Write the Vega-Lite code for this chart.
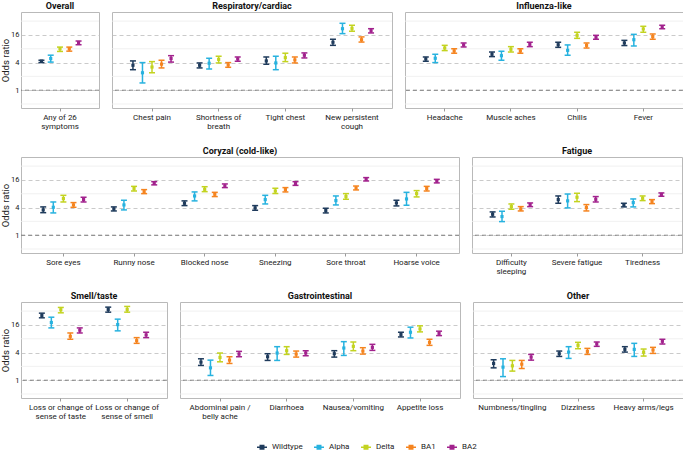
{
"$schema": "https://vega.github.io/schema/vega-lite/v6.json",
"padding": {"left": 0, "top": 0, "right": 0, "bottom": 0},
"background": "white",
"spacing": 14,
"resolve": {"scale": {"xOffset": "independent"}},
"datasets": {"d": [
{"g":"Overall","s":"Any of 26 symptoms","v":"Wildtype","or":4.3,"lo":4.0,"hi":4.5},
{"g":"Overall","s":"Any of 26 symptoms","v":"Alpha","or":4.9,"lo":4.1,"hi":5.8},
{"g":"Overall","s":"Any of 26 symptoms","v":"Delta","or":8.0,"lo":7.0,"hi":8.7},
{"g":"Overall","s":"Any of 26 symptoms","v":"BA1","or":8.0,"lo":7.1,"hi":8.7},
{"g":"Overall","s":"Any of 26 symptoms","v":"BA2","or":10.9,"lo":9.8,"hi":11.8},
{"g":"Respiratory/cardiac","s":"Chest pain","v":"Wildtype","or":3.5,"lo":2.8,"hi":4.35},
{"g":"Respiratory/cardiac","s":"Chest pain","v":"Alpha","or":2.4,"lo":1.44,"hi":4.0},
{"g":"Respiratory/cardiac","s":"Chest pain","v":"Delta","or":3.2,"lo":2.4,"hi":4.2},
{"g":"Respiratory/cardiac","s":"Chest pain","v":"BA1","or":3.7,"lo":3.06,"hi":4.5},
{"g":"Respiratory/cardiac","s":"Chest pain","v":"BA2","or":4.9,"lo":4.1,"hi":5.66},
{"g":"Respiratory/cardiac","s":"Shortness of breath","v":"Wildtype","or":3.5,"lo":3.06,"hi":3.93},
{"g":"Respiratory/cardiac","s":"Shortness of breath","v":"Alpha","or":3.87,"lo":2.9,"hi":4.97},
{"g":"Respiratory/cardiac","s":"Shortness of breath","v":"Delta","or":4.7,"lo":3.93,"hi":5.5},
{"g":"Respiratory/cardiac","s":"Shortness of breath","v":"BA1","or":3.56,"lo":3.16,"hi":4.0},
{"g":"Respiratory/cardiac","s":"Shortness of breath","v":"BA2","or":4.8,"lo":4.28,"hi":5.3},
{"g":"Respiratory/cardiac","s":"Tight chest","v":"Wildtype","or":4.35,"lo":3.68,"hi":5.3},
{"g":"Respiratory/cardiac","s":"Tight chest","v":"Alpha","or":3.93,"lo":2.8,"hi":5.5},
{"g":"Respiratory/cardiac","s":"Tight chest","v":"Delta","or":5.13,"lo":4.2,"hi":6.4},
{"g":"Respiratory/cardiac","s":"Tight chest","v":"BA1","or":4.57,"lo":3.93,"hi":5.3},
{"g":"Respiratory/cardiac","s":"Tight chest","v":"BA2","or":5.78,"lo":5.05,"hi":6.5},
{"g":"Respiratory/cardiac","s":"New persistent cough","v":"Wildtype","or":11.1,"lo":9.5,"hi":12.9},
{"g":"Respiratory/cardiac","s":"New persistent cough","v":"Alpha","or":21.9,"lo":17.1,"hi":28.7},
{"g":"Respiratory/cardiac","s":"New persistent cough","v":"Delta","or":22.3,"lo":19.3,"hi":26},
{"g":"Respiratory/cardiac","s":"New persistent cough","v":"BA1","or":12.6,"lo":11.2,"hi":14.5},
{"g":"Respiratory/cardiac","s":"New persistent cough","v":"BA2","or":19.8,"lo":17.7,"hi":21.9},
{"g":"Influenza-like","s":"Headache","v":"Wildtype","or":4.8,"lo":4.28,"hi":5.3},
{"g":"Influenza-like","s":"Headache","v":"Alpha","or":4.97,"lo":4.0,"hi":6.07},
{"g":"Influenza-like","s":"Headache","v":"Delta","or":8.3,"lo":7.3,"hi":9.5},
{"g":"Influenza-like","s":"Headache","v":"BA1","or":7.17,"lo":6.4,"hi":8.0},
{"g":"Influenza-like","s":"Headache","v":"BA2","or":9.7,"lo":8.76,"hi":10.7},
{"g":"Influenza-like","s":"Muscle aches","v":"Wildtype","or":6.07,"lo":5.4,"hi":6.8},
{"g":"Influenza-like","s":"Muscle aches","v":"Alpha","or":5.66,"lo":4.5,"hi":7.06},
{"g":"Influenza-like","s":"Muscle aches","v":"Delta","or":7.8,"lo":6.8,"hi":8.9},
{"g":"Influenza-like","s":"Muscle aches","v":"BA1","or":7.17,"lo":6.4,"hi":8.0},
{"g":"Influenza-like","s":"Muscle aches","v":"BA2","or":10.0,"lo":8.9,"hi":11.1},
{"g":"Influenza-like","s":"Chills","v":"Wildtype","or":9.8,"lo":8.6,"hi":11.1},
{"g":"Influenza-like","s":"Chills","v":"Alpha","or":7.4,"lo":5.78,"hi":9.7},
{"g":"Influenza-like","s":"Chills","v":"Delta","or":15.7,"lo":13.5,"hi":18.3},
{"g":"Influenza-like","s":"Chills","v":"BA1","or":9.5,"lo":8.3,"hi":10.7},
{"g":"Influenza-like","s":"Chills","v":"BA2","or":14.2,"lo":12.9,"hi":15.7},
{"g":"Influenza-like","s":"Fever","v":"Wildtype","or":10.7,"lo":9.4,"hi":12.2},
{"g":"Influenza-like","s":"Fever","v":"Alpha","or":12.6,"lo":9.2,"hi":16.5},
{"g":"Influenza-like","s":"Fever","v":"Delta","or":21.6,"lo":18.3,"hi":24.7},
{"g":"Influenza-like","s":"Fever","v":"BA1","or":14.7,"lo":12.9,"hi":16.8},
{"g":"Influenza-like","s":"Fever","v":"BA2","or":23.9,"lo":21.9,"hi":26},
{"g":"Coryzal (cold-like)","s":"Sore eyes","v":"Wildtype","or":3.56,"lo":3.1,"hi":4.14},
{"g":"Coryzal (cold-like)","s":"Sore eyes","v":"Alpha","or":4.06,"lo":3.06,"hi":5.3},
{"g":"Coryzal (cold-like)","s":"Sore eyes","v":"Delta","or":6.28,"lo":5.3,"hi":7.4},
{"g":"Coryzal (cold-like)","s":"Sore eyes","v":"BA1","or":4.57,"lo":4.06,"hi":5.14},
{"g":"Coryzal (cold-like)","s":"Sore eyes","v":"BA2","or":5.97,"lo":5.3,"hi":6.72},
{"g":"Coryzal (cold-like)","s":"Runny nose","v":"Wildtype","or":3.74,"lo":3.38,"hi":4.14},
{"g":"Coryzal (cold-like)","s":"Runny nose","v":"Alpha","or":4.57,"lo":3.56,"hi":5.78},
{"g":"Coryzal (cold-like)","s":"Runny nose","v":"Delta","or":10.4,"lo":9.2,"hi":11.6},
{"g":"Coryzal (cold-like)","s":"Runny nose","v":"BA1","or":8.9,"lo":8.06,"hi":9.85},
{"g":"Coryzal (cold-like)","s":"Runny nose","v":"BA2","or":13.5,"lo":12.5,"hi":14.7},
{"g":"Coryzal (cold-like)","s":"Blocked nose","v":"Wildtype","or":4.97,"lo":4.42,"hi":5.6},
{"g":"Coryzal (cold-like)","s":"Blocked nose","v":"Alpha","or":7.17,"lo":5.6,"hi":8.77},
{"g":"Coryzal (cold-like)","s":"Blocked nose","v":"Delta","or":10.0,"lo":8.9,"hi":11.4},
{"g":"Coryzal (cold-like)","s":"Blocked nose","v":"BA1","or":7.8,"lo":6.95,"hi":8.6},
{"g":"Coryzal (cold-like)","s":"Blocked nose","v":"BA2","or":11.8,"lo":10.9,"hi":13.1},
{"g":"Coryzal (cold-like)","s":"Sneezing","v":"Wildtype","or":3.94,"lo":3.5,"hi":4.42},
{"g":"Coryzal (cold-like)","s":"Sneezing","v":"Alpha","or":5.97,"lo":4.8,"hi":7.4},
{"g":"Coryzal (cold-like)","s":"Sneezing","v":"Delta","or":9.2,"lo":8.06,"hi":10.5},
{"g":"Coryzal (cold-like)","s":"Sneezing","v":"BA1","or":9.85,"lo":8.77,"hi":10.9},
{"g":"Coryzal (cold-like)","s":"Sneezing","v":"BA2","or":13.3,"lo":12.2,"hi":14.7},
{"g":"Coryzal (cold-like)","s":"Sore throat","v":"Wildtype","or":3.44,"lo":3.06,"hi":3.87},
{"g":"Coryzal (cold-like)","s":"Sore throat","v":"Alpha","or":5.68,"lo":4.57,"hi":7.17},
{"g":"Coryzal (cold-like)","s":"Sore throat","v":"Delta","or":6.95,"lo":6.07,"hi":8.06},
{"g":"Coryzal (cold-like)","s":"Sore throat","v":"BA1","or":10.7,"lo":9.7,"hi":11.8},
{"g":"Coryzal (cold-like)","s":"Sore throat","v":"BA2","or":16.5,"lo":15.2,"hi":18.0},
{"g":"Coryzal (cold-like)","s":"Hoarse voice","v":"Wildtype","or":5.05,"lo":4.35,"hi":5.78},
{"g":"Coryzal (cold-like)","s":"Hoarse voice","v":"Alpha","or":6.17,"lo":4.5,"hi":8.6},
{"g":"Coryzal (cold-like)","s":"Hoarse voice","v":"Delta","or":8.06,"lo":6.83,"hi":9.38},
{"g":"Coryzal (cold-like)","s":"Hoarse voice","v":"BA1","or":10.4,"lo":9.2,"hi":11.6},
{"g":"Coryzal (cold-like)","s":"Hoarse voice","v":"BA2","or":15.2,"lo":13.8,"hi":16.5},
{"g":"Fatigue","s":"Difficulty sleeping","v":"Wildtype","or":2.86,"lo":2.5,"hi":3.22},
{"g":"Fatigue","s":"Difficulty sleeping","v":"Alpha","or":2.55,"lo":1.98,"hi":3.33},
{"g":"Fatigue","s":"Difficulty sleeping","v":"Delta","or":4.2,"lo":3.68,"hi":4.8},
{"g":"Fatigue","s":"Difficulty sleeping","v":"BA1","or":3.74,"lo":3.38,"hi":4.2},
{"g":"Fatigue","s":"Difficulty sleeping","v":"BA2","or":4.65,"lo":4.2,"hi":5.05},
{"g":"Fatigue","s":"Severe fatigue","v":"Wildtype","or":5.97,"lo":4.97,"hi":7.17},
{"g":"Fatigue","s":"Severe fatigue","v":"Alpha","or":5.6,"lo":3.94,"hi":7.9},
{"g":"Fatigue","s":"Severe fatigue","v":"Delta","or":6.72,"lo":5.4,"hi":8.2},
{"g":"Fatigue","s":"Severe fatigue","v":"BA1","or":4.0,"lo":3.38,"hi":4.65},
{"g":"Fatigue","s":"Severe fatigue","v":"BA2","or":6.07,"lo":5.3,"hi":6.95},
{"g":"Fatigue","s":"Tiredness","v":"Wildtype","or":4.5,"lo":4.14,"hi":4.97},
{"g":"Fatigue","s":"Tiredness","v":"Alpha","or":5.14,"lo":4.14,"hi":6.17},
{"g":"Fatigue","s":"Tiredness","v":"Delta","or":6.38,"lo":5.68,"hi":7.17},
{"g":"Fatigue","s":"Tiredness","v":"BA1","or":5.4,"lo":4.88,"hi":5.97},
{"g":"Fatigue","s":"Tiredness","v":"BA2","or":7.67,"lo":7.06,"hi":8.35},
{"g":"Smell/taste","s":"Loss or change of sense of taste","v":"Wildtype","or":25.7,"lo":22.9,"hi":28.9},
{"g":"Smell/taste","s":"Loss or change of sense of taste","v":"Alpha","or":18.1,"lo":13.8,"hi":23.6},
{"g":"Smell/taste","s":"Loss or change of sense of taste","v":"Delta","or":34.3,"lo":29.4,"hi":38.5},
{"g":"Smell/taste","s":"Loss or change of sense of taste","v":"BA1","or":9.06,"lo":7.8,"hi":10.7},
{"g":"Smell/taste","s":"Loss or change of sense of taste","v":"BA2","or":12.3,"lo":10.7,"hi":13.8},
{"g":"Smell/taste","s":"Loss or change of sense of smell","v":"Wildtype","or":34.8,"lo":30.4,"hi":39.1},
{"g":"Smell/taste","s":"Loss or change of sense of smell","v":"Alpha","or":16.3,"lo":11.9,"hi":21.4},
{"g":"Smell/taste","s":"Loss or change of sense of smell","v":"Delta","or":34.8,"lo":30.4,"hi":40.5},
{"g":"Smell/taste","s":"Loss or change of sense of smell","v":"BA1","or":7.28,"lo":6.36,"hi":8.47},
{"g":"Smell/taste","s":"Loss or change of sense of smell","v":"BA2","or":9.7,"lo":8.47,"hi":11.1},
{"g":"Gastrointestinal","s":"Abdominal pain / belly ache","v":"Wildtype","or":2.48,"lo":2.1,"hi":2.93},
{"g":"Gastrointestinal","s":"Abdominal pain / belly ache","v":"Alpha","or":1.86,"lo":1.27,"hi":2.74},
{"g":"Gastrointestinal","s":"Abdominal pain / belly ache","v":"Delta","or":3.14,"lo":2.52,"hi":3.91},
{"g":"Gastrointestinal","s":"Abdominal pain / belly ache","v":"BA1","or":2.74,"lo":2.32,"hi":3.25},
{"g":"Gastrointestinal","s":"Abdominal pain / belly ache","v":"BA2","or":3.71,"lo":3.25,"hi":4.25},
{"g":"Gastrointestinal","s":"Diarrhoea","v":"Wildtype","or":3.25,"lo":2.7,"hi":3.78},
{"g":"Gastrointestinal","s":"Diarrhoea","v":"Alpha","or":3.91,"lo":2.7,"hi":5.38},
{"g":"Gastrointestinal","s":"Diarrhoea","v":"Delta","or":4.4,"lo":3.65,"hi":5.38},
{"g":"Gastrointestinal","s":"Diarrhoea","v":"BA1","or":3.71,"lo":3.19,"hi":4.32},
{"g":"Gastrointestinal","s":"Diarrhoea","v":"BA2","or":3.91,"lo":3.42,"hi":4.4},
{"g":"Gastrointestinal","s":"Nausea/vomiting","v":"Wildtype","or":3.78,"lo":3.19,"hi":4.4},
{"g":"Gastrointestinal","s":"Nausea/vomiting","v":"Alpha","or":5.03,"lo":3.47,"hi":6.92},
{"g":"Gastrointestinal","s":"Nausea/vomiting","v":"Delta","or":5.47,"lo":4.4,"hi":6.8},
{"g":"Gastrointestinal","s":"Nausea/vomiting","v":"BA1","or":4.32,"lo":3.71,"hi":5.11},
{"g":"Gastrointestinal","s":"Nausea/vomiting","v":"BA2","or":5.2,"lo":4.47,"hi":6.05},
{"g":"Gastrointestinal","s":"Appetite loss","v":"Wildtype","or":9.86,"lo":8.77,"hi":11.1},
{"g":"Gastrointestinal","s":"Appetite loss","v":"Alpha","or":11.1,"lo":8.33,"hi":14.3},
{"g":"Gastrointestinal","s":"Appetite loss","v":"Delta","or":13.1,"lo":11.3,"hi":15.3},
{"g":"Gastrointestinal","s":"Appetite loss","v":"BA1","or":6.69,"lo":5.75,"hi":7.8},
{"g":"Gastrointestinal","s":"Appetite loss","v":"BA2","or":10.5,"lo":9.38,"hi":11.7},
{"g":"Other","s":"Numbness/tingling","v":"Wildtype","or":2.32,"lo":1.86,"hi":2.79},
{"g":"Other","s":"Numbness/tingling","v":"Alpha","or":1.93,"lo":1.2,"hi":2.93},
{"g":"Other","s":"Numbness/tingling","v":"Delta","or":2.06,"lo":1.58,"hi":2.7},
{"g":"Other","s":"Numbness/tingling","v":"BA1","or":2.24,"lo":1.8,"hi":2.7},
{"g":"Other","s":"Numbness/tingling","v":"BA2","or":3.19,"lo":2.74,"hi":3.65},
{"g":"Other","s":"Dizziness","v":"Wildtype","or":3.78,"lo":3.3,"hi":4.32},
{"g":"Other","s":"Dizziness","v":"Alpha","or":4.1,"lo":2.99,"hi":5.38},
{"g":"Other","s":"Dizziness","v":"Delta","or":5.75,"lo":4.86,"hi":6.69},
{"g":"Other","s":"Dizziness","v":"BA1","or":4.25,"lo":3.65,"hi":4.94},
{"g":"Other","s":"Dizziness","v":"BA2","or":6.15,"lo":5.47,"hi":6.8},
{"g":"Other","s":"Heavy arms/legs","v":"Wildtype","or":4.7,"lo":4.1,"hi":5.38},
{"g":"Other","s":"Heavy arms/legs","v":"Alpha","or":4.7,"lo":3.3,"hi":6.36},
{"g":"Other","s":"Heavy arms/legs","v":"Delta","or":4.1,"lo":3.36,"hi":4.78},
{"g":"Other","s":"Heavy arms/legs","v":"BA1","or":4.55,"lo":3.84,"hi":5.2},
{"g":"Other","s":"Heavy arms/legs","v":"BA2","or":7.05,"lo":6.15,"hi":7.8}
]},
"vconcat": [
{"hconcat": [
 {"vconcat": [
  {"width": 78, "height": 11, "data": {"values": [{"t": "Overall"}]}, "mark": {"type": "text", "fontWeight": "bold", "fontSize": 9, "color": "#111"}, "encoding": {"text": {"field": "t"}}},
  {"width": 78, "height": 96, "layer": [
   {"data": {"values": [{"m": 0.5}, {"m": 2}, {"m": 8}, {"m": 32}]}, "mark": {"type": "rule", "color": "#ededed", "strokeWidth": 0.8}, "encoding": {"y": {"field": "m", "type": "quantitative", "scale": {"type": "log", "domain": [0.41, 50.6], "nice": false}, "axis": {"values": [1, 4, 16], "title": "Odds ratio"}}}},
   {"data": {"values": [{"r": 1}]}, "mark": {"type": "rule", "color": "#6b6b6b", "strokeDash": [4, 3], "strokeWidth": 0.8}, "encoding": {"y": {"field": "r", "type": "quantitative", "scale": {"type": "log", "domain": [0.41, 50.6], "nice": false}, "axis": {"values": [1, 4, 16], "title": "Odds ratio"}}}},
   {"data": {"name": "d"}, "transform": [{"filter": {"field": "g", "equal": "Overall"}}],
    "encoding": {
     "x": {"field": "s", "type": "nominal", "sort": null, "title": null, "scale": {"paddingInner": 0, "paddingOuter": 0.1}, "axis": {"labelExpr": "datum.label == 'Any of 26 symptoms' ? ['Any of 26', 'symptoms'] : datum.label"}},
     "xOffset": {"field": "v", "type": "nominal", "sort": ["Wildtype", "Alpha", "Delta", "BA1", "BA2"], "scale": {"paddingInner": 0, "paddingOuter": 2.5}},
     "color": {"field": "v", "type": "nominal", "title": null, "scale": {"domain": ["Wildtype", "Alpha", "Delta", "BA1", "BA2"], "range": ["#1f3b5c", "#27b2df", "#c3d320", "#f5841f", "#a2228d"]},
      "legend": {"orient": "none", "legendX": 235, "legendY": 441, "direction": "horizontal", "symbolType": "M-1,0H1M-0.35,-0.35H0.35V0.35H-0.35Z", "symbolStrokeWidth": 1.5, "symbolSize": 100, "labelFontSize": 8, "labelColor": "#222", "columnPadding": 8, "labelOffset": 4,
       "encode": {"symbols": {"update": {"stroke": {"scale": "color", "field": "value"}, "fill": {"scale": "color", "field": "value"}, "opacity": {"value": 1}}}}}}
    },
    "layer": [
     {"mark": {"type": "rule", "strokeWidth": 1.5}, "encoding": {"y": {"field": "lo", "type": "quantitative", "scale": {"type": "log", "domain": [0.41, 50.6], "nice": false}, "axis": {"values": [1, 4, 16], "title": "Odds ratio"}}, "y2": {"field": "hi"}}},
     {"mark": {"type": "tick", "orient": "horizontal", "size": 6, "thickness": 1.5, "opacity": 1}, "encoding": {"y": {"field": "lo", "type": "quantitative", "axis": {"values": [1, 4, 16], "title": "Odds ratio"}}}},
     {"mark": {"type": "tick", "orient": "horizontal", "size": 6, "thickness": 1.5, "opacity": 1}, "encoding": {"y": {"field": "hi", "type": "quantitative", "axis": {"values": [1, 4, 16], "title": "Odds ratio"}}}},
     {"mark": {"type": "point", "shape": "square", "filled": true, "size": 10, "opacity": 1}, "encoding": {"y": {"field": "or", "type": "quantitative", "axis": {"values": [1, 4, 16], "title": "Odds ratio"}}}}
    ]}
  ]}
 ], "spacing": 0, "resolve": {"scale": {"xOffset": "independent"}}},
 {"vconcat": [
  {"width": 280, "height": 11, "data": {"values": [{"t": "Respiratory/cardiac"}]}, "mark": {"type": "text", "fontWeight": "bold", "fontSize": 9, "color": "#111"}, "encoding": {"text": {"field": "t"}}},
  {"width": 280, "height": 96, "layer": [
   {"data": {"values": [{"m": 0.5}, {"m": 2}, {"m": 8}, {"m": 32}]}, "mark": {"type": "rule", "color": "#ededed", "strokeWidth": 0.8}, "encoding": {"y": {"field": "m", "type": "quantitative", "scale": {"type": "log", "domain": [0.41, 50.6], "nice": false}, "axis": {"values": [1, 4, 16], "labels": false, "title": null}}}},
   {"data": {"values": [{"r": 1}]}, "mark": {"type": "rule", "color": "#6b6b6b", "strokeDash": [4, 3], "strokeWidth": 0.8}, "encoding": {"y": {"field": "r", "type": "quantitative", "scale": {"type": "log", "domain": [0.41, 50.6], "nice": false}, "axis": {"values": [1, 4, 16], "labels": false, "title": null}}}},
   {"data": {"name": "d"}, "transform": [{"filter": {"field": "g", "equal": "Respiratory/cardiac"}}],
    "encoding": {
     "x": {"field": "s", "type": "nominal", "sort": null, "title": null, "scale": {"paddingInner": 0, "paddingOuter": 0.1}, "axis": {"labelExpr": "datum.label == 'Shortness of breath' ? ['Shortness of', 'breath'] : datum.label == 'New persistent cough' ? ['New persistent', 'cough'] : datum.label"}},
     "xOffset": {"field": "v", "type": "nominal", "sort": ["Wildtype", "Alpha", "Delta", "BA1", "BA2"], "scale": {"paddingInner": 0, "paddingOuter": 2.5}},
     "color": {"field": "v", "type": "nominal", "title": null, "scale": {"domain": ["Wildtype", "Alpha", "Delta", "BA1", "BA2"], "range": ["#1f3b5c", "#27b2df", "#c3d320", "#f5841f", "#a2228d"]}, "legend": null}
    },
    "layer": [
     {"mark": {"type": "rule", "strokeWidth": 1.5}, "encoding": {"y": {"field": "lo", "type": "quantitative", "scale": {"type": "log", "domain": [0.41, 50.6], "nice": false}, "axis": {"values": [1, 4, 16], "labels": false, "title": null}}, "y2": {"field": "hi"}}},
     {"mark": {"type": "tick", "orient": "horizontal", "size": 6, "thickness": 1.5, "opacity": 1}, "encoding": {"y": {"field": "lo", "type": "quantitative", "axis": {"values": [1, 4, 16], "labels": false, "title": null}}}},
     {"mark": {"type": "tick", "orient": "horizontal", "size": 6, "thickness": 1.5, "opacity": 1}, "encoding": {"y": {"field": "hi", "type": "quantitative", "axis": {"values": [1, 4, 16], "labels": false, "title": null}}}},
     {"mark": {"type": "point", "shape": "square", "filled": true, "size": 10, "opacity": 1}, "encoding": {"y": {"field": "or", "type": "quantitative", "axis": {"values": [1, 4, 16], "labels": false, "title": null}}}}
    ]}
  ]}
 ], "spacing": 0, "resolve": {"scale": {"xOffset": "independent"}}},
 {"vconcat": [
  {"width": 278, "height": 11, "data": {"values": [{"t": "Influenza-like"}]}, "mark": {"type": "text", "fontWeight": "bold", "fontSize": 9, "color": "#111"}, "encoding": {"text": {"field": "t"}}},
  {"width": 278, "height": 96, "layer": [
   {"data": {"values": [{"m": 0.5}, {"m": 2}, {"m": 8}, {"m": 32}]}, "mark": {"type": "rule", "color": "#ededed", "strokeWidth": 0.8}, "encoding": {"y": {"field": "m", "type": "quantitative", "scale": {"type": "log", "domain": [0.41, 50.6], "nice": false}, "axis": {"values": [1, 4, 16], "labels": false, "title": null}}}},
   {"data": {"values": [{"r": 1}]}, "mark": {"type": "rule", "color": "#6b6b6b", "strokeDash": [4, 3], "strokeWidth": 0.8}, "encoding": {"y": {"field": "r", "type": "quantitative", "scale": {"type": "log", "domain": [0.41, 50.6], "nice": false}, "axis": {"values": [1, 4, 16], "labels": false, "title": null}}}},
   {"data": {"name": "d"}, "transform": [{"filter": {"field": "g", "equal": "Influenza-like"}}],
    "encoding": {
     "x": {"field": "s", "type": "nominal", "sort": null, "title": null, "scale": {"paddingInner": 0, "paddingOuter": 0.1}},
     "xOffset": {"field": "v", "type": "nominal", "sort": ["Wildtype", "Alpha", "Delta", "BA1", "BA2"], "scale": {"paddingInner": 0, "paddingOuter": 2.5}},
     "color": {"field": "v", "type": "nominal", "title": null, "scale": {"domain": ["Wildtype", "Alpha", "Delta", "BA1", "BA2"], "range": ["#1f3b5c", "#27b2df", "#c3d320", "#f5841f", "#a2228d"]}, "legend": null}
    },
    "layer": [
     {"mark": {"type": "rule", "strokeWidth": 1.5}, "encoding": {"y": {"field": "lo", "type": "quantitative", "scale": {"type": "log", "domain": [0.41, 50.6], "nice": false}, "axis": {"values": [1, 4, 16], "labels": false, "title": null}}, "y2": {"field": "hi"}}},
     {"mark": {"type": "tick", "orient": "horizontal", "size": 6, "thickness": 1.5, "opacity": 1}, "encoding": {"y": {"field": "lo", "type": "quantitative", "axis": {"values": [1, 4, 16], "labels": false, "title": null}}}},
     {"mark": {"type": "tick", "orient": "horizontal", "size": 6, "thickness": 1.5, "opacity": 1}, "encoding": {"y": {"field": "hi", "type": "quantitative", "axis": {"values": [1, 4, 16], "labels": false, "title": null}}}},
     {"mark": {"type": "point", "shape": "square", "filled": true, "size": 10, "opacity": 1}, "encoding": {"y": {"field": "or", "type": "quantitative", "axis": {"values": [1, 4, 16], "labels": false, "title": null}}}}
    ]}
  ]}
 ], "spacing": 0, "resolve": {"scale": {"xOffset": "independent"}}}
], "spacing": 11, "resolve": {"scale": {"xOffset": "independent"}}},
{"hconcat": [
 {"vconcat": [
  {"width": 438, "height": 11, "data": {"values": [{"t": "Coryzal (cold-like)"}]}, "mark": {"type": "text", "fontWeight": "bold", "fontSize": 9, "color": "#111"}, "encoding": {"text": {"field": "t"}}},
  {"width": 438, "height": 96, "layer": [
   {"data": {"values": [{"m": 0.5}, {"m": 2}, {"m": 8}, {"m": 32}]}, "mark": {"type": "rule", "color": "#ededed", "strokeWidth": 0.8}, "encoding": {"y": {"field": "m", "type": "quantitative", "scale": {"type": "log", "domain": [0.41, 50.6], "nice": false}, "axis": {"values": [1, 4, 16], "title": "Odds ratio"}}}},
   {"data": {"values": [{"r": 1}]}, "mark": {"type": "rule", "color": "#6b6b6b", "strokeDash": [4, 3], "strokeWidth": 0.8}, "encoding": {"y": {"field": "r", "type": "quantitative", "scale": {"type": "log", "domain": [0.41, 50.6], "nice": false}, "axis": {"values": [1, 4, 16], "title": "Odds ratio"}}}},
   {"data": {"name": "d"}, "transform": [{"filter": {"field": "g", "equal": "Coryzal (cold-like)"}}],
    "encoding": {
     "x": {"field": "s", "type": "nominal", "sort": null, "title": null, "scale": {"paddingInner": 0, "paddingOuter": 0.1}},
     "xOffset": {"field": "v", "type": "nominal", "sort": ["Wildtype", "Alpha", "Delta", "BA1", "BA2"], "scale": {"paddingInner": 0, "paddingOuter": 2.5}},
     "color": {"field": "v", "type": "nominal", "title": null, "scale": {"domain": ["Wildtype", "Alpha", "Delta", "BA1", "BA2"], "range": ["#1f3b5c", "#27b2df", "#c3d320", "#f5841f", "#a2228d"]}, "legend": null}
    },
    "layer": [
     {"mark": {"type": "rule", "strokeWidth": 1.5}, "encoding": {"y": {"field": "lo", "type": "quantitative", "scale": {"type": "log", "domain": [0.41, 50.6], "nice": false}, "axis": {"values": [1, 4, 16], "title": "Odds ratio"}}, "y2": {"field": "hi"}}},
     {"mark": {"type": "tick", "orient": "horizontal", "size": 6, "thickness": 1.5, "opacity": 1}, "encoding": {"y": {"field": "lo", "type": "quantitative", "axis": {"values": [1, 4, 16], "title": "Odds ratio"}}}},
     {"mark": {"type": "tick", "orient": "horizontal", "size": 6, "thickness": 1.5, "opacity": 1}, "encoding": {"y": {"field": "hi", "type": "quantitative", "axis": {"values": [1, 4, 16], "title": "Odds ratio"}}}},
     {"mark": {"type": "point", "shape": "square", "filled": true, "size": 10, "opacity": 1}, "encoding": {"y": {"field": "or", "type": "quantitative", "axis": {"values": [1, 4, 16], "title": "Odds ratio"}}}}
    ]}
  ]}
 ], "spacing": 0, "resolve": {"scale": {"xOffset": "independent"}}},
 {"vconcat": [
  {"width": 210, "height": 11, "data": {"values": [{"t": "Fatigue"}]}, "mark": {"type": "text", "fontWeight": "bold", "fontSize": 9, "color": "#111"}, "encoding": {"text": {"field": "t"}}},
  {"width": 210, "height": 96, "layer": [
   {"data": {"values": [{"m": 0.5}, {"m": 2}, {"m": 8}, {"m": 32}]}, "mark": {"type": "rule", "color": "#ededed", "strokeWidth": 0.8}, "encoding": {"y": {"field": "m", "type": "quantitative", "scale": {"type": "log", "domain": [0.41, 50.6], "nice": false}, "axis": {"values": [1, 4, 16], "labels": false, "title": null}}}},
   {"data": {"values": [{"r": 1}]}, "mark": {"type": "rule", "color": "#6b6b6b", "strokeDash": [4, 3], "strokeWidth": 0.8}, "encoding": {"y": {"field": "r", "type": "quantitative", "scale": {"type": "log", "domain": [0.41, 50.6], "nice": false}, "axis": {"values": [1, 4, 16], "labels": false, "title": null}}}},
   {"data": {"name": "d"}, "transform": [{"filter": {"field": "g", "equal": "Fatigue"}}],
    "encoding": {
     "x": {"field": "s", "type": "nominal", "sort": null, "title": null, "scale": {"paddingInner": 0, "paddingOuter": 0.1}, "axis": {"labelExpr": "datum.label == 'Difficulty sleeping' ? ['Difficulty', 'sleeping'] : datum.label"}},
     "xOffset": {"field": "v", "type": "nominal", "sort": ["Wildtype", "Alpha", "Delta", "BA1", "BA2"], "scale": {"paddingInner": 0, "paddingOuter": 2.5}},
     "color": {"field": "v", "type": "nominal", "title": null, "scale": {"domain": ["Wildtype", "Alpha", "Delta", "BA1", "BA2"], "range": ["#1f3b5c", "#27b2df", "#c3d320", "#f5841f", "#a2228d"]}, "legend": null}
    },
    "layer": [
     {"mark": {"type": "rule", "strokeWidth": 1.5}, "encoding": {"y": {"field": "lo", "type": "quantitative", "scale": {"type": "log", "domain": [0.41, 50.6], "nice": false}, "axis": {"values": [1, 4, 16], "labels": false, "title": null}}, "y2": {"field": "hi"}}},
     {"mark": {"type": "tick", "orient": "horizontal", "size": 6, "thickness": 1.5, "opacity": 1}, "encoding": {"y": {"field": "lo", "type": "quantitative", "axis": {"values": [1, 4, 16], "labels": false, "title": null}}}},
     {"mark": {"type": "tick", "orient": "horizontal", "size": 6, "thickness": 1.5, "opacity": 1}, "encoding": {"y": {"field": "hi", "type": "quantitative", "axis": {"values": [1, 4, 16], "labels": false, "title": null}}}},
     {"mark": {"type": "point", "shape": "square", "filled": true, "size": 10, "opacity": 1}, "encoding": {"y": {"field": "or", "type": "quantitative", "axis": {"values": [1, 4, 16], "labels": false, "title": null}}}}
    ]}
  ]}
 ], "spacing": 0, "resolve": {"scale": {"xOffset": "independent"}}}
], "spacing": 11, "resolve": {"scale": {"xOffset": "independent"}}},
{"hconcat": [
 {"vconcat": [
  {"width": 146, "height": 11, "data": {"values": [{"t": "Smell/taste"}]}, "mark": {"type": "text", "fontWeight": "bold", "fontSize": 9, "color": "#111"}, "encoding": {"text": {"field": "t"}}},
  {"width": 146, "height": 96, "layer": [
   {"data": {"values": [{"m": 0.5}, {"m": 2}, {"m": 8}, {"m": 32}]}, "mark": {"type": "rule", "color": "#ededed", "strokeWidth": 0.8}, "encoding": {"y": {"field": "m", "type": "quantitative", "scale": {"type": "log", "domain": [0.41, 50.6], "nice": false}, "axis": {"values": [1, 4, 16], "title": "Odds ratio"}}}},
   {"data": {"values": [{"r": 1}]}, "mark": {"type": "rule", "color": "#6b6b6b", "strokeDash": [4, 3], "strokeWidth": 0.8}, "encoding": {"y": {"field": "r", "type": "quantitative", "scale": {"type": "log", "domain": [0.41, 50.6], "nice": false}, "axis": {"values": [1, 4, 16], "title": "Odds ratio"}}}},
   {"data": {"name": "d"}, "transform": [{"filter": {"field": "g", "equal": "Smell/taste"}}],
    "encoding": {
     "x": {"field": "s", "type": "nominal", "sort": null, "title": null, "scale": {"paddingInner": 0, "paddingOuter": 0.1}, "axis": {"labelExpr": "datum.label == 'Loss or change of sense of taste' ? ['Loss or change of', 'sense of taste'] : datum.label == 'Loss or change of sense of smell' ? ['Loss or change of', 'sense of smell'] : datum.label"}},
     "xOffset": {"field": "v", "type": "nominal", "sort": ["Wildtype", "Alpha", "Delta", "BA1", "BA2"], "scale": {"paddingInner": 0, "paddingOuter": 2.5}},
     "color": {"field": "v", "type": "nominal", "title": null, "scale": {"domain": ["Wildtype", "Alpha", "Delta", "BA1", "BA2"], "range": ["#1f3b5c", "#27b2df", "#c3d320", "#f5841f", "#a2228d"]}, "legend": null}
    },
    "layer": [
     {"mark": {"type": "rule", "strokeWidth": 1.5}, "encoding": {"y": {"field": "lo", "type": "quantitative", "scale": {"type": "log", "domain": [0.41, 50.6], "nice": false}, "axis": {"values": [1, 4, 16], "title": "Odds ratio"}}, "y2": {"field": "hi"}}},
     {"mark": {"type": "tick", "orient": "horizontal", "size": 6, "thickness": 1.5, "opacity": 1}, "encoding": {"y": {"field": "lo", "type": "quantitative", "axis": {"values": [1, 4, 16], "title": "Odds ratio"}}}},
     {"mark": {"type": "tick", "orient": "horizontal", "size": 6, "thickness": 1.5, "opacity": 1}, "encoding": {"y": {"field": "hi", "type": "quantitative", "axis": {"values": [1, 4, 16], "title": "Odds ratio"}}}},
     {"mark": {"type": "point", "shape": "square", "filled": true, "size": 10, "opacity": 1}, "encoding": {"y": {"field": "or", "type": "quantitative", "axis": {"values": [1, 4, 16], "title": "Odds ratio"}}}}
    ]}
  ]}
 ], "spacing": 0, "resolve": {"scale": {"xOffset": "independent"}}},
 {"vconcat": [
  {"width": 280, "height": 11, "data": {"values": [{"t": "Gastrointestinal"}]}, "mark": {"type": "text", "fontWeight": "bold", "fontSize": 9, "color": "#111"}, "encoding": {"text": {"field": "t"}}},
  {"width": 280, "height": 96, "layer": [
   {"data": {"values": [{"m": 0.5}, {"m": 2}, {"m": 8}, {"m": 32}]}, "mark": {"type": "rule", "color": "#ededed", "strokeWidth": 0.8}, "encoding": {"y": {"field": "m", "type": "quantitative", "scale": {"type": "log", "domain": [0.41, 50.6], "nice": false}, "axis": {"values": [1, 4, 16], "labels": false, "title": null}}}},
   {"data": {"values": [{"r": 1}]}, "mark": {"type": "rule", "color": "#6b6b6b", "strokeDash": [4, 3], "strokeWidth": 0.8}, "encoding": {"y": {"field": "r", "type": "quantitative", "scale": {"type": "log", "domain": [0.41, 50.6], "nice": false}, "axis": {"values": [1, 4, 16], "labels": false, "title": null}}}},
   {"data": {"name": "d"}, "transform": [{"filter": {"field": "g", "equal": "Gastrointestinal"}}],
    "encoding": {
     "x": {"field": "s", "type": "nominal", "sort": null, "title": null, "scale": {"paddingInner": 0, "paddingOuter": 0.1}, "axis": {"labelExpr": "datum.label == 'Abdominal pain / belly ache' ? ['Abdominal pain /', 'belly ache'] : datum.label"}},
     "xOffset": {"field": "v", "type": "nominal", "sort": ["Wildtype", "Alpha", "Delta", "BA1", "BA2"], "scale": {"paddingInner": 0, "paddingOuter": 2.5}},
     "color": {"field": "v", "type": "nominal", "title": null, "scale": {"domain": ["Wildtype", "Alpha", "Delta", "BA1", "BA2"], "range": ["#1f3b5c", "#27b2df", "#c3d320", "#f5841f", "#a2228d"]}, "legend": null}
    },
    "layer": [
     {"mark": {"type": "rule", "strokeWidth": 1.5}, "encoding": {"y": {"field": "lo", "type": "quantitative", "scale": {"type": "log", "domain": [0.41, 50.6], "nice": false}, "axis": {"values": [1, 4, 16], "labels": false, "title": null}}, "y2": {"field": "hi"}}},
     {"mark": {"type": "tick", "orient": "horizontal", "size": 6, "thickness": 1.5, "opacity": 1}, "encoding": {"y": {"field": "lo", "type": "quantitative", "axis": {"values": [1, 4, 16], "labels": false, "title": null}}}},
     {"mark": {"type": "tick", "orient": "horizontal", "size": 6, "thickness": 1.5, "opacity": 1}, "encoding": {"y": {"field": "hi", "type": "quantitative", "axis": {"values": [1, 4, 16], "labels": false, "title": null}}}},
     {"mark": {"type": "point", "shape": "square", "filled": true, "size": 10, "opacity": 1}, "encoding": {"y": {"field": "or", "type": "quantitative", "axis": {"values": [1, 4, 16], "labels": false, "title": null}}}}
    ]}
  ]}
 ], "spacing": 0, "resolve": {"scale": {"xOffset": "independent"}}},
 {"vconcat": [
  {"width": 210, "height": 11, "data": {"values": [{"t": "Other"}]}, "mark": {"type": "text", "fontWeight": "bold", "fontSize": 9, "color": "#111"}, "encoding": {"text": {"field": "t"}}},
  {"width": 210, "height": 96, "layer": [
   {"data": {"values": [{"m": 0.5}, {"m": 2}, {"m": 8}, {"m": 32}]}, "mark": {"type": "rule", "color": "#ededed", "strokeWidth": 0.8}, "encoding": {"y": {"field": "m", "type": "quantitative", "scale": {"type": "log", "domain": [0.41, 50.6], "nice": false}, "axis": {"values": [1, 4, 16], "labels": false, "title": null}}}},
   {"data": {"values": [{"r": 1}]}, "mark": {"type": "rule", "color": "#6b6b6b", "strokeDash": [4, 3], "strokeWidth": 0.8}, "encoding": {"y": {"field": "r", "type": "quantitative", "scale": {"type": "log", "domain": [0.41, 50.6], "nice": false}, "axis": {"values": [1, 4, 16], "labels": false, "title": null}}}},
   {"data": {"name": "d"}, "transform": [{"filter": {"field": "g", "equal": "Other"}}],
    "encoding": {
     "x": {"field": "s", "type": "nominal", "sort": null, "title": null, "scale": {"paddingInner": 0, "paddingOuter": 0.1}},
     "xOffset": {"field": "v", "type": "nominal", "sort": ["Wildtype", "Alpha", "Delta", "BA1", "BA2"], "scale": {"paddingInner": 0, "paddingOuter": 2.5}},
     "color": {"field": "v", "type": "nominal", "title": null, "scale": {"domain": ["Wildtype", "Alpha", "Delta", "BA1", "BA2"], "range": ["#1f3b5c", "#27b2df", "#c3d320", "#f5841f", "#a2228d"]}, "legend": null}
    },
    "layer": [
     {"mark": {"type": "rule", "strokeWidth": 1.5}, "encoding": {"y": {"field": "lo", "type": "quantitative", "scale": {"type": "log", "domain": [0.41, 50.6], "nice": false}, "axis": {"values": [1, 4, 16], "labels": false, "title": null}}, "y2": {"field": "hi"}}},
     {"mark": {"type": "tick", "orient": "horizontal", "size": 6, "thickness": 1.5, "opacity": 1}, "encoding": {"y": {"field": "lo", "type": "quantitative", "axis": {"values": [1, 4, 16], "labels": false, "title": null}}}},
     {"mark": {"type": "tick", "orient": "horizontal", "size": 6, "thickness": 1.5, "opacity": 1}, "encoding": {"y": {"field": "hi", "type": "quantitative", "axis": {"values": [1, 4, 16], "labels": false, "title": null}}}},
     {"mark": {"type": "point", "shape": "square", "filled": true, "size": 10, "opacity": 1}, "encoding": {"y": {"field": "or", "type": "quantitative", "axis": {"values": [1, 4, 16], "labels": false, "title": null}}}}
    ]}
  ]}
 ], "spacing": 0, "resolve": {"scale": {"xOffset": "independent"}}}
], "spacing": 11, "resolve": {"scale": {"xOffset": "independent"}}}
],
"config": {
 "font": "Roboto",
 "view": {"stroke": "#b9b9b9", "strokeWidth": 1},
 "axisX": {"labelAngle": 0, "domain": false, "grid": false, "ticks": true, "tickColor": "#9a9a9a", "tickSize": 3, "labelPadding": 2, "labelFontSize": 8, "labelLineHeight": 9, "labelColor": "#222", "labelLimit": 200},
 "axisY": {"grid": true, "gridDash": [4, 3], "gridColor": "#bdbdbd", "gridWidth": 0.8, "ticks": false, "tickSize": 0, "domain": false, "labelFontSize": 7.5, "labelColor": "#222", "labelPadding": 2, "titleFontSize": 9.5, "titleFontWeight": "normal", "titleColor": "#222", "titlePadding": 0}
}
}
